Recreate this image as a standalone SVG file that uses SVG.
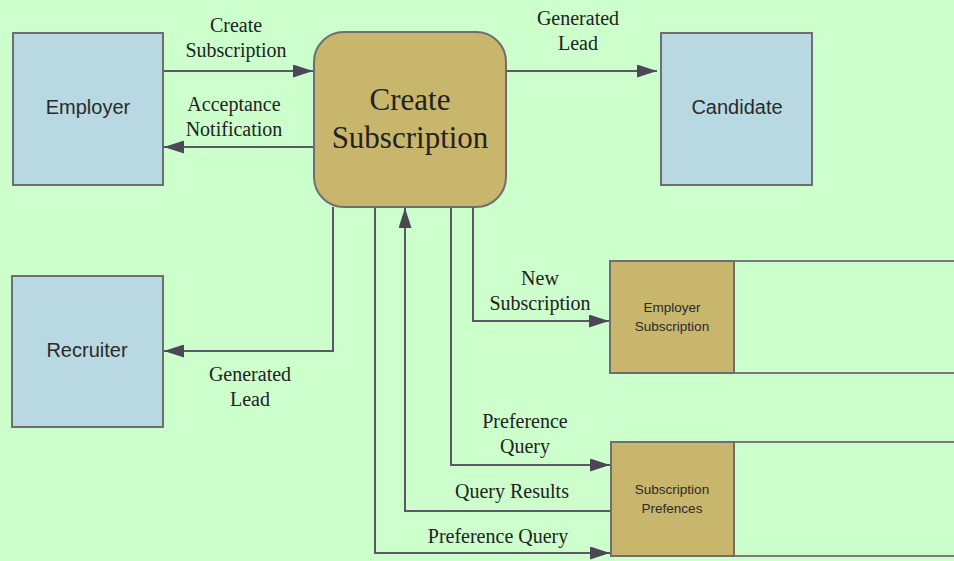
<svg xmlns="http://www.w3.org/2000/svg" width="954" height="561" viewBox="0 0 954 561">
<defs>
<marker id="ah" markerWidth="20" markerHeight="13" refX="20" refY="6.5" orient="auto" markerUnits="userSpaceOnUse">
<path d="M0,0 L20,6.5 L0,13 Z" fill="#4b4757"/>
</marker>
<style>
.ent{fill:#b8d9e2;stroke:#6e6e72;stroke-width:2}
.proc{fill:#c9b66d;stroke:#6e6e72;stroke-width:2}
.store{fill:none;stroke:#7a7a7e;stroke-width:2}
.store2{fill:#c9b66d;stroke:#6e6e72;stroke-width:2}
.con{fill:none;stroke:#5a5766;stroke-width:2;marker-end:url(#ah)}
.lbl{font-family:"Liberation Serif","Times New Roman",serif;font-size:20px;fill:#222;text-anchor:middle}
.big{font-family:"Liberation Serif","Times New Roman",serif;font-size:31px;fill:#222;text-anchor:middle}
.sans{font-family:"Liberation Sans",Arial,sans-serif;font-size:20px;fill:#2a2a2a;text-anchor:middle}
.small{font-family:"Liberation Sans",Arial,sans-serif;font-size:13.5px;fill:#2a2a2a;text-anchor:middle}
</style>
</defs>
<rect x="0" y="0" width="954" height="561" fill="#ccffcc"/>
<g id="connectors">
<line class="con" x1="163" y1="71" x2="313" y2="71"/>
<line class="con" x1="314" y1="147" x2="164" y2="147"/>
<line class="con" x1="506" y1="71" x2="657" y2="71"/>
<polyline class="con" points="333,207 333,351 164,351"/>
<polyline class="con" points="473,207 473,321 609,321"/>
<polyline class="con" points="451,207 451,465 610,465"/>
<polyline class="con" points="610,511 405,511 405,208"/>
<polyline class="con" points="375,207 375,553 610,553"/>
</g>
<g id="employer">
<rect class="ent" x="13" y="33" width="150" height="152"/>
<text class="sans" x="88" y="114">Employer</text>
</g>
<g id="recruiter">
<rect class="ent" x="12" y="276" width="151" height="151"/>
<text class="sans" x="87" y="357">Recruiter</text>
</g>
<g id="candidate">
<rect class="ent" x="661" y="33" width="151" height="152"/>
<text class="sans" x="737" y="114">Candidate</text>
</g>
<g id="create-subscription">
<rect class="proc" x="314" y="32" width="192" height="175" rx="30" ry="30"/>
<text class="big" x="410" y="110">Create</text>
<text class="big" x="410" y="148">Subscription</text>
</g>
<g id="employer-subscription">
<path class="store" d="M954,261 H610 V373 H954"/>
<rect class="store2" x="610" y="261" width="124" height="112"/>
<text class="small" x="672" y="312">Employer</text>
<text class="small" x="672" y="331">Subscription</text>
</g>
<g id="subscription-prefences">
<path class="store" d="M954,442 H611 V556 H954"/>
<rect class="store2" x="611" y="442" width="123" height="114"/>
<text class="small" x="672" y="494">Subscription</text>
<text class="small" x="672" y="513">Prefences</text>
</g>
<g id="labels">
<text class="lbl" x="236" y="32">Create</text>
<text class="lbl" x="236" y="57">Subscription</text>
<text class="lbl" x="234" y="111">Acceptance</text>
<text class="lbl" x="234" y="136">Notification</text>
<text class="lbl" x="578" y="25">Generated</text>
<text class="lbl" x="578" y="50">Lead</text>
<text class="lbl" x="540" y="285">New</text>
<text class="lbl" x="540" y="310">Subscription</text>
<text class="lbl" x="250" y="381">Generated</text>
<text class="lbl" x="250" y="406">Lead</text>
<text class="lbl" x="525" y="428">Preference</text>
<text class="lbl" x="525" y="453">Query</text>
<text class="lbl" x="512" y="498">Query Results</text>
<text class="lbl" x="498" y="543">Preference Query</text>
</g>
</svg>
